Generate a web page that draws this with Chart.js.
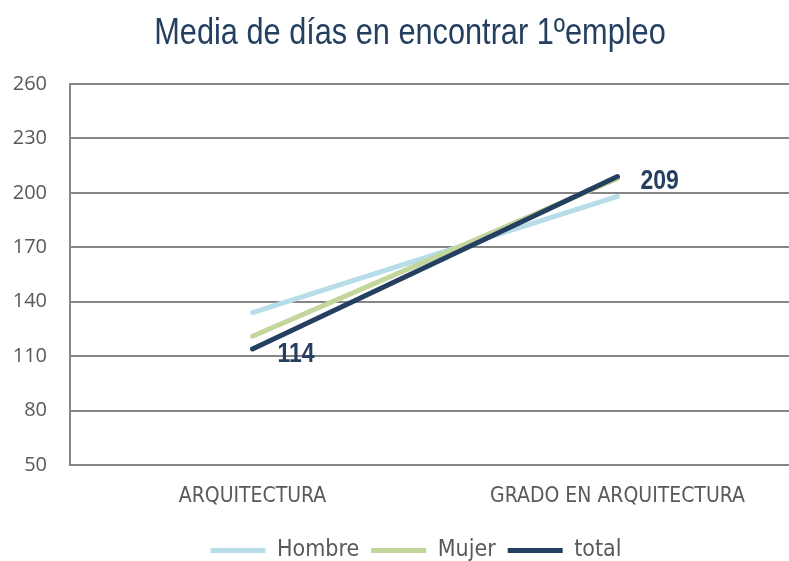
<!DOCTYPE html>
<html>
<head>
<meta charset="utf-8">
<script src="https://cdn.jsdelivr.net/npm/chart.js@4/dist/chart.umd.min.js"></script>
<style>
  html, body { margin: 0; padding: 0; background: #fff; overflow: hidden; }
  #wrap { width: 800px; height: 561px; }
</style>
</head>
<body>
<div id="wrap"><canvas id="chart" width="800" height="561"></canvas></div>
<script>
const titleText = 'Media de días en encontrar 1ºempleo';
const categories = ['ARQUITECTURA', 'GRADO EN ARQUITECTURA'];
const hombre = [134, 198];
const mujer = [121, 208];
const total = [114, 209];
const yTicks = [50, 80, 110, 140, 170, 200, 230, 260];

const condensed = '"DejaVu Sans Condensed", sans-serif';
const navy = '#243F60';

// Arial Narrow look: Liberation Sans squeezed horizontally
function narrowText(ctx, text, x, y, font, squeeze, align) {
    ctx.save();
    ctx.font = font;
    ctx.textAlign = align;
    ctx.translate(x, y);
    ctx.scale(squeeze, 1);
    ctx.fillText(text, 0, 0);
    ctx.restore();
}

const extras = {
    id: 'extras',
    afterLayout(chart) {
        // legend sits a bit right of centre and lower in the original
        chart.legend.left += 10;
        chart.legend.right += 10;
        chart.legend.top += 15;
        chart.legend.bottom += 15;
    },
    afterDraw(chart) {
        const ctx = chart.ctx;
        ctx.fillStyle = navy;
        ctx.textBaseline = 'alphabetic';
        narrowText(ctx, titleText, 410, 44, '37px "Liberation Sans"', 0.83, 'center');
        const meta = chart.getDatasetMeta(2);
        const p0 = meta.data[0], p1 = meta.data[1];
        narrowText(ctx, String(total[0]), p0.x + 25, p0.y + 13, 'bold 28px "Liberation Sans"', 0.82, 'left');
        narrowText(ctx, String(total[1]), p1.x + 23, p1.y + 12, 'bold 28px "Liberation Sans"', 0.82, 'left');
    }
};

new Chart(document.getElementById('chart'), {
    type: 'line',
    data: {
        labels: categories,
        datasets: [
            { label: 'Hombre', data: hombre, borderColor: '#B7DDE8', order: 3 },
            { label: 'Mujer', data: mujer, borderColor: '#C3D69B', order: 2 },
            { label: 'total', data: total, borderColor: navy, order: 1 },
        ].map(d => Object.assign(d, {
            backgroundColor: d.borderColor, borderWidth: 5, pointRadius: 0,
            borderCapStyle: 'round', tension: 0, fill: false,
        })),
    },
    options: {
        responsive: false,
        animation: false,
        layout: { padding: { left: 12, right: 0, top: 84, bottom: 4 } },
        plugins: {
            title: { display: false },
            legend: {
                position: 'bottom',
                labels: {
                    color: '#595959',
                    font: { family: condensed, size: 23 },
                    boxWidth: 55,
                    boxHeight: 5,
                    padding: 12,
                    sort: (a, b) => a.datasetIndex - b.datasetIndex,
                    generateLabels(chart) {
                        return Chart.defaults.plugins.legend.labels.generateLabels(chart).map(l =>
                            Object.assign(l, { lineWidth: 0, fillStyle: l.strokeStyle }));
                    },
                },
            },
            tooltip: { enabled: false },
        },
        scales: {
            x: {
                offset: true,
                afterFit(axis) { axis.height = 47; },
                grid: { display: false, drawTicks: false },
                border: { display: false },
                ticks: { color: '#595959', font: { family: condensed, size: 21 }, padding: 19, maxRotation: 0 },
            },
            y: {
                min: 50,
                max: 260,
                afterBuildTicks(axis) { axis.ticks = yTicks.map(v => ({ value: v })); },
                afterFit(axis) { axis.width = 58; },
                grid: { color: '#868686', lineWidth: 2, drawTicks: false },
                border: { display: true, color: '#868686', width: 2 },
                ticks: { color: '#595959', font: { family: '"Open Sans", sans-serif', size: 20 }, padding: 23 },
            },
        },
    },
    plugins: [extras],
});
</script>
</body>
</html>
